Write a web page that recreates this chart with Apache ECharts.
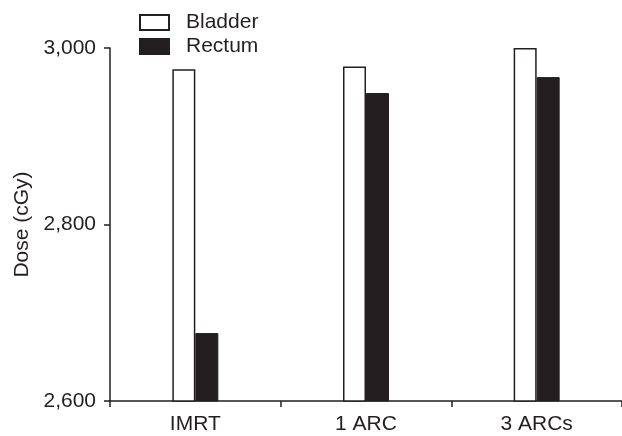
<!DOCTYPE html>
<html>
<head>
<meta charset="utf-8">
<script src="https://cdn.jsdelivr.net/npm/echarts@6/dist/echarts.min.js"></script>
<style>
  html, body { margin: 0; padding: 0; background: #fff; }
  #chart { width: 622px; height: 436px; }
</style>
</head>
<body>
<div id="chart"></div>
<script>
// data
var categories = ['IMRT', '1 ARC', '3 ARCs'];
var bladder = [2976, 2979, 3000];
var rectum = [2677, 2949, 2967];
var yTicks = [2600, 2800, 3000];

var ink = '#231f20';
var font = 'Liberation Sans, Arial, Helvetica, sans-serif';

var chart = echarts.init(document.getElementById('chart'));

var option = {
    animation: false,
    backgroundColor: '#fff',
    textStyle: { fontFamily: font, color: ink },
    legend: {
        orient: 'vertical',
        left: 139,
        top: 12,
        padding: 0,
        itemWidth: 29,
        itemHeight: 15,
        itemGap: 3,
        icon: 'rect',
        data: ['Bladder', 'Rectum'],
        textStyle: {
            fontSize: 21, lineHeight: 15, color: ink, fontFamily: font,
            padding: [0, 0, 0, 12]
        }
    },
    grid: {
        left: 110,
        right: 0,
        top: 48,
        bottom: 35
    },
    xAxis: {
        type: 'category',
        data: categories,
        axisLine: { lineStyle: { color: ink, width: 1.5 } },
        axisTick: { show: true, length: 6, lineStyle: { color: ink, width: 1.5 } },
        axisLabel: { fontSize: 21, color: ink, fontFamily: font, margin: 13 }
    },
    yAxis: {
        type: 'value',
        min: yTicks[0],
        max: yTicks[yTicks.length - 1],
        interval: 200,
        name: 'Dose (cGy)',
        nameLocation: 'middle',
        nameGap: 77,
        nameTextStyle: { fontSize: 21, color: ink, fontFamily: font },
        splitLine: { show: false },
        axisLine: { show: true, lineStyle: { color: ink, width: 1.5 } },
        axisTick: { show: true, length: 6, lineStyle: { color: ink, width: 1.5 } },
        axisLabel: {
            fontSize: 21,
            color: ink,
            fontFamily: font,
            margin: 14,
            formatter: function (v) { return echarts.format.addCommas(v); }
        }
    },
    series: [
        {
            name: 'Bladder',
            type: 'bar',
            data: bladder,
            barWidth: 23,
            barGap: '0%',
            itemStyle: { color: '#fff', borderColor: ink, borderWidth: 1.5 }
        },
        {
            name: 'Rectum',
            type: 'bar',
            data: rectum,
            barWidth: 23,
            barGap: '0%',
            itemStyle: { color: ink, borderColor: ink, borderWidth: 1 }
        }
    ]
};

chart.setOption(option);
</script>
</body>
</html>
